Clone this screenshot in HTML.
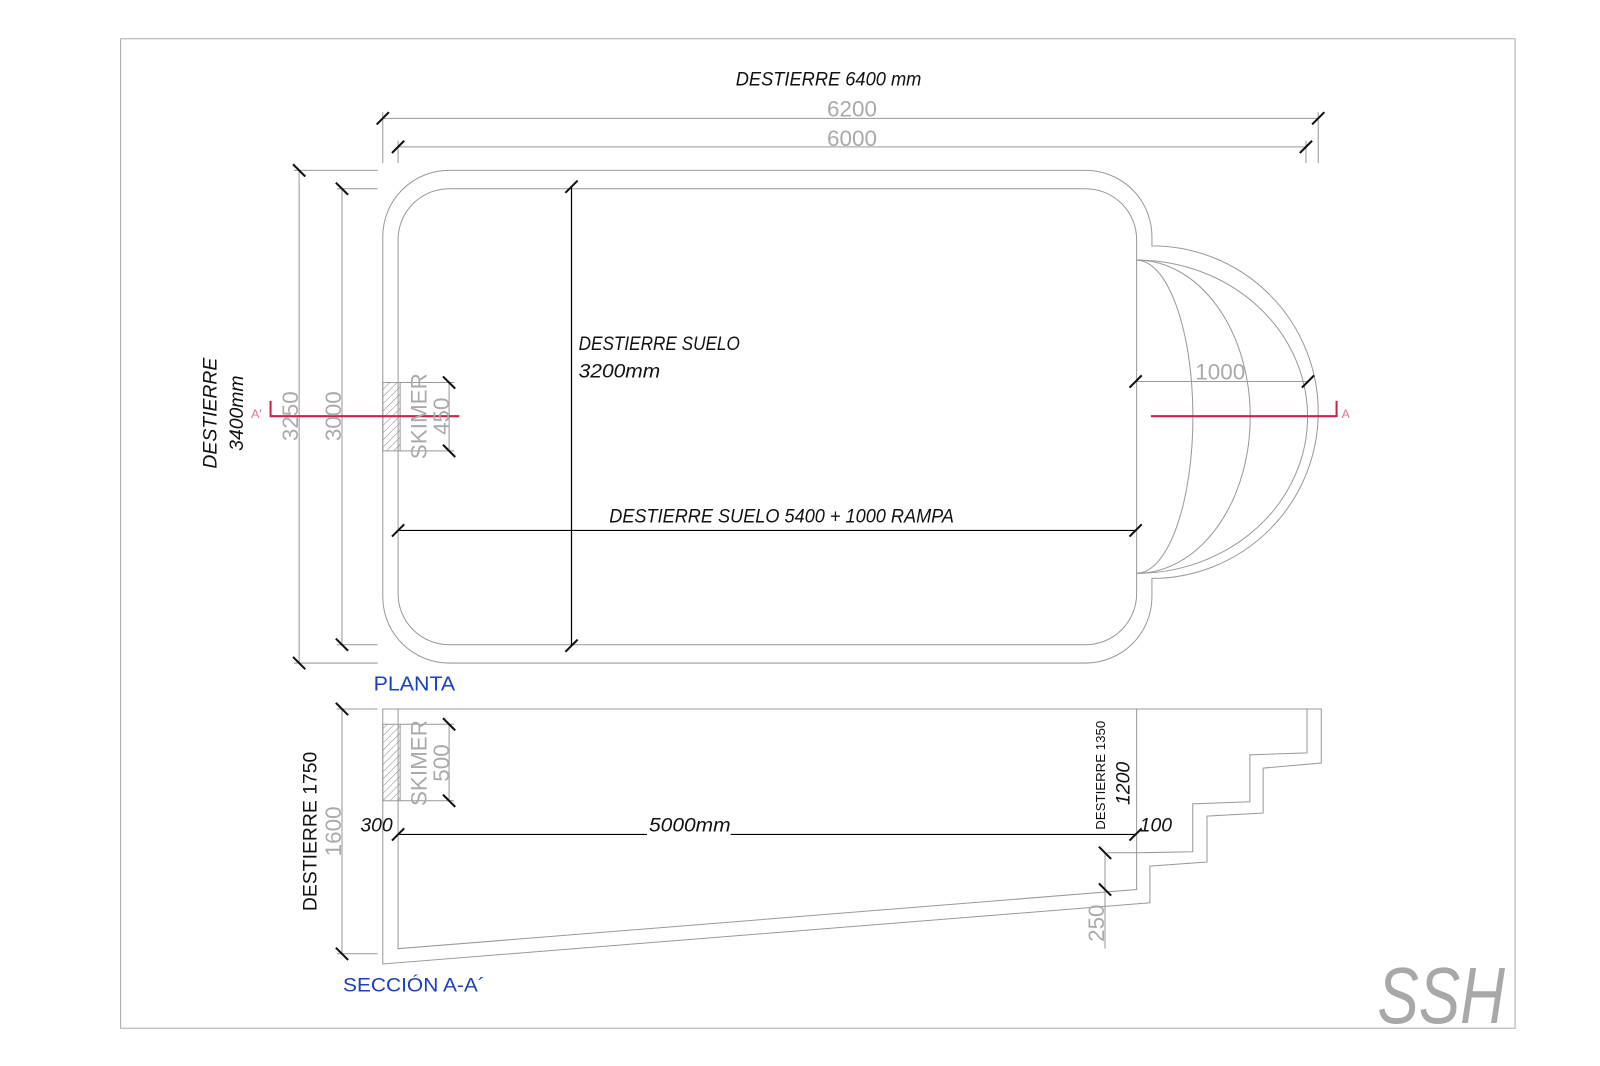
<!DOCTYPE html>
<html><head><meta charset="utf-8"><style>html,body{margin:0;padding:0;background:#fff}svg{display:block}</style></head>
<body>
<svg width="1600" height="1066" viewBox="0 0 1568 1045" xmlns="http://www.w3.org/2000/svg" font-family="Liberation Sans, sans-serif">
<defs>
<pattern id="h" width="5" height="5" patternUnits="userSpaceOnUse" patternTransform="rotate(45)"><line x1="0" y1="0" x2="0" y2="5" stroke="#888" stroke-width="1"/></pattern>
</defs>
<rect x="118" y="38" width="1367" height="970" fill="none" stroke="#aaa" stroke-width="1"/>
<g fill="none" stroke="#999" stroke-width="1">
<line x1="375" y1="116" x2="1292" y2="116"/><line x1="375" y1="110" x2="375" y2="160"/><line x1="1292" y1="110" x2="1292" y2="160"/>
<line x1="390" y1="144" x2="1280" y2="144"/><line x1="390" y1="138" x2="390" y2="160"/><line x1="1280" y1="138" x2="1280" y2="160"/>
<line x1="293" y1="167" x2="293" y2="650"/><line x1="288" y1="167" x2="370" y2="167"/><line x1="288" y1="650" x2="370" y2="650"/>
<line x1="335" y1="185" x2="335" y2="632"/><line x1="330" y1="185" x2="370" y2="185"/><line x1="330" y1="632" x2="370" y2="632"/>
<path d="M440 167 H1064 A65 65 0 0 1 1129 232 V241 A163 163 0 0 1 1129 567 V585 A65 65 0 0 1 1064 650 H440 A65 65 0 0 1 375 585 V232 A65 65 0 0 1 440 167 Z"/>
<rect x="390" y="185" width="724" height="447" rx="50" ry="50"/>
<path d="M1114 255 A167 153 0 0 1 1114 562"/>
<path d="M1114 255 A55 153 0 0 1 1114 562"/>
<path d="M1114 255 A111 153 0 0 1 1114 562"/>
<line x1="1113" y1="374" x2="1282" y2="374"/>
<line x1="440" y1="375" x2="440" y2="442"/><line x1="392" y1="375" x2="445" y2="375"/><line x1="392" y1="442" x2="445" y2="442"/>
<path d="M375 695 H1295 V748 L1238 753 V797 L1183 800 V845 L1127 849 V885 L375 945 Z"/>
<path d="M390 695 V930 L1114 872 V695"/>
<path d="M1085 836 H1114 M1114 836 L1169 835 V788 L1225 786 V740 L1281 738 V695"/>
<line x1="1083" y1="836" x2="1083" y2="930"/>
<line x1="335" y1="695" x2="335" y2="935"/><line x1="330" y1="695" x2="370" y2="695"/><line x1="330" y1="935" x2="370" y2="935"/>
<line x1="440" y1="710" x2="440" y2="785"/><line x1="392" y1="710" x2="445" y2="710"/><line x1="392" y1="785" x2="445" y2="785"/>
</g>
<rect x="375" y="375" width="17" height="67" fill="url(#h)" stroke="#999"/>
<rect x="375" y="710" width="17" height="75" fill="url(#h)" stroke="#999"/>
<g stroke="#000" stroke-width="1.2">
<line x1="560" y1="183" x2="560" y2="633"/>
<line x1="390" y1="520" x2="1113" y2="520"/>
<line x1="390" y1="818" x2="1113" y2="818"/>
</g>
<g stroke="#111" stroke-width="2">
<path d="M369 122 l12 -12 M1286 122 l12 -12 M384 150 l12 -12 M1274 150 l12 -12"/>
<path d="M287 161 l12 12 M287 644 l12 12 M329 179 l12 12 M329 626 l12 12"/>
<path d="M434 369 l12 12 M434 436 l12 12 M434 704 l12 12 M434 779 l12 12"/>
<path d="M329 689 l12 12 M329 929 l12 12"/>
<path d="M554 189 l12 -12 M554 639 l12 -12 M384 526 l12 -12 M1107 526 l12 -12 M1107 380 l12 -12 M1276 380 l12 -12"/>
<path d="M384 824 l12 -12 M1107 824 l12 -12"/>
<path d="M1077 830 l12 12 M1077 866 l12 12"/>
</g>
<g stroke="#d0204a" stroke-width="2" fill="none">
<path d="M265 393 V408 H450"/>
<path d="M1128 408 H1310 V393"/>
</g>
<text x="246" y="410" font-size="12" fill="#e07090">A'</text>
<text x="1315" y="410" font-size="12" fill="#e07090">A</text>
<g fill="#aaa" font-size="22">
<text x="835" y="114" text-anchor="middle">6200</text>
<text x="835" y="143" text-anchor="middle">6000</text>
<text x="1196" y="372" text-anchor="middle">1000</text>
<text transform="translate(292,408) rotate(-90)" text-anchor="middle">3250</text>
<text transform="translate(334,408) rotate(-90)" text-anchor="middle">3000</text>
<text transform="translate(418,408) rotate(-90)" text-anchor="middle">SKIMER</text>
<text transform="translate(440,408) rotate(-90)" text-anchor="middle">450</text>
<text transform="translate(418,748) rotate(-90)" text-anchor="middle">SKIMER</text>
<text transform="translate(440,748) rotate(-90)" text-anchor="middle">500</text>
<text transform="translate(334,815) rotate(-90)" text-anchor="middle">1600</text>
<text transform="translate(1082,905) rotate(-90)" text-anchor="middle">250</text>
</g>
<g fill="#111" font-size="19" font-style="italic">
<text x="721" y="84" textLength="182" lengthAdjust="spacingAndGlyphs">DESTIERRE 6400 mm</text>
<text x="567" y="343" textLength="158" lengthAdjust="spacingAndGlyphs">DESTIERRE SUELO</text>
<text x="567" y="370" textLength="80" lengthAdjust="spacingAndGlyphs">3200mm</text>
<text x="597" y="512" textLength="338" lengthAdjust="spacingAndGlyphs">DESTIERRE SUELO 5400 + 1000 RAMPA</text>
<text transform="translate(212,405) rotate(-90)" text-anchor="middle">DESTIERRE</text>
<text transform="translate(238,405) rotate(-90)" text-anchor="middle">3400mm</text>
<text x="353" y="815">300</text>
<rect x="634" y="800" width="82" height="20" fill="#fff"/>
<text x="636" y="815" textLength="80" lengthAdjust="spacingAndGlyphs">5000mm</text>
<text x="1117" y="815">100</text>
<text transform="translate(1107,768) rotate(-90)" text-anchor="middle">1200</text>
</g>
<text transform="translate(310,815) rotate(-90)" text-anchor="middle" font-size="19" fill="#111">DESTIERRE 1750</text>
<text transform="translate(1083,760) rotate(-90)" text-anchor="middle" font-size="13" fill="#111">DESTIERRE 1350</text>
<text x="366" y="677" font-size="20" fill="#1a3fc0" textLength="80" lengthAdjust="spacingAndGlyphs">PLANTA</text>
<text x="336" y="972" font-size="19" fill="#1a3fc0" textLength="139" lengthAdjust="spacingAndGlyphs">SECCIÓN A-A´</text>
<text x="1350" y="1003" font-size="78" font-style="italic" fill="#a8a8a8" textLength="125" lengthAdjust="spacingAndGlyphs">SSH</text>
</svg>
</body></html>
